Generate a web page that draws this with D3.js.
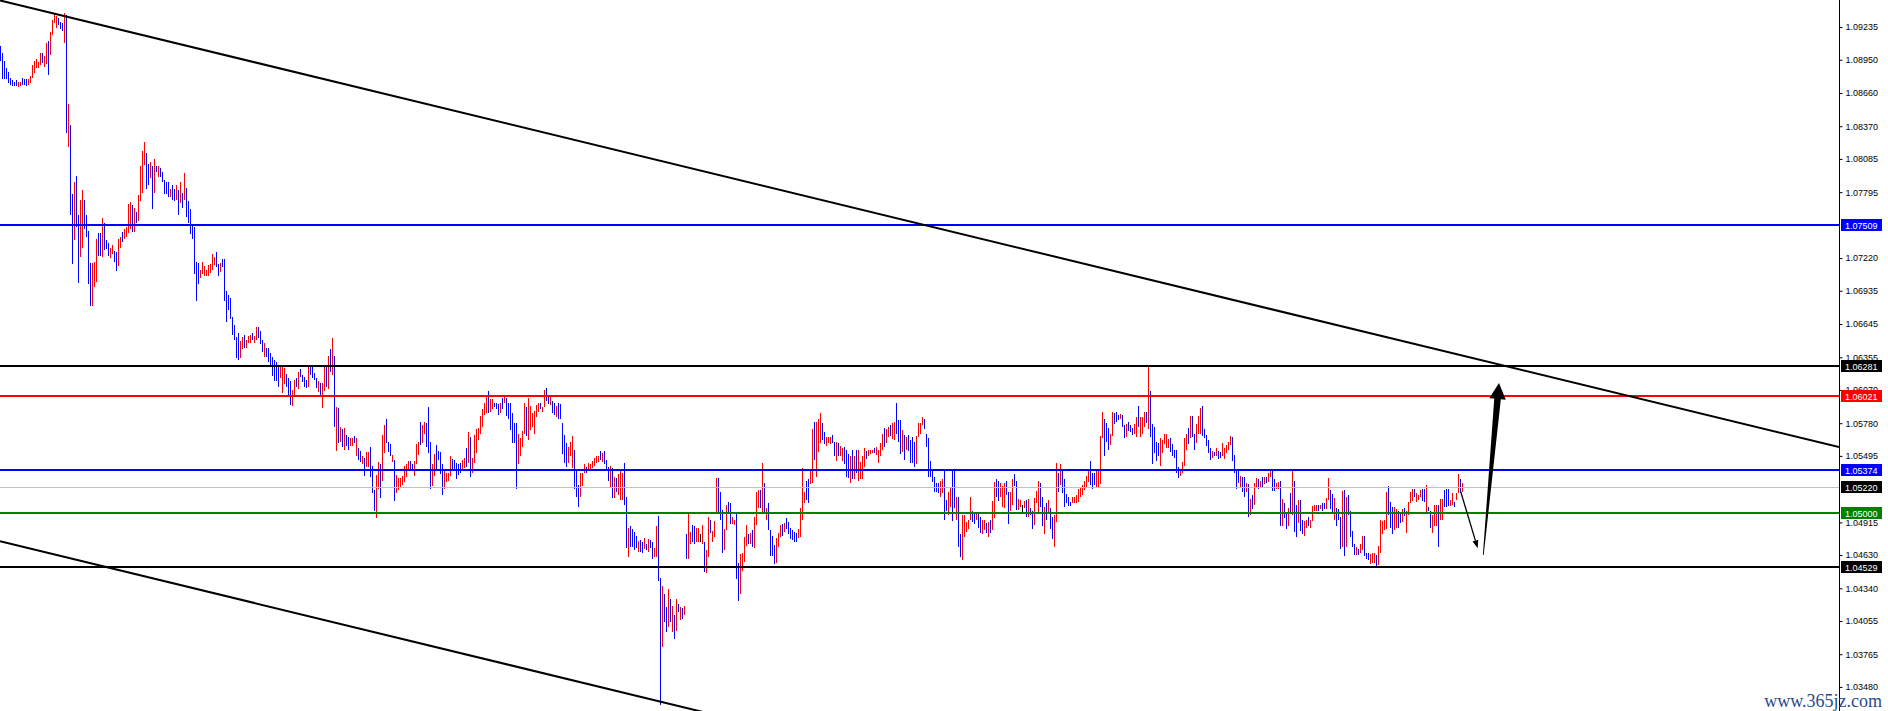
<!DOCTYPE html>
<html><head><meta charset="utf-8">
<script src="https://cdn.jsdelivr.net/npm/d3@7"></script>
<style>html,body{margin:0;padding:0;background:#fff;overflow:hidden}svg{display:block}</style>
</head><body>
<svg id="chart" width="1888" height="711"></svg>
<script>
// ---- DATA: bar highs, lows and direction (1 = close above open, -1 = close below open, 0 = unchanged) ----
const highs = [
1.0907,1.0901,1.0894,1.0888,1.0884,1.0879,1.0877,1.0876,1.0877,1.0876,
1.0876,1.0879,1.0878,1.0878,1.0878,1.0881,1.0890,1.0894,1.0896,1.0893,
1.0901,1.0901,1.0898,1.0910,1.0911,1.0919,1.0930,1.0936,1.0933,1.0931,
1.0928,1.0927,1.0936,1.0934,1.0856,1.0838,1.0778,1.0788,1.0794,1.0760,
1.0773,1.0781,1.0773,1.0760,1.0746,1.0718,1.0718,1.0719,1.0739,1.0744,
1.0744,1.0757,1.0753,1.0738,1.0735,1.0731,1.0733,1.0728,1.0727,1.0739,
1.0740,1.0745,1.0747,1.0749,1.0769,1.0771,1.0768,1.0766,1.0762,1.0777,
1.0802,1.0815,1.0823,1.0814,1.0804,1.0806,1.0802,1.0808,1.0802,1.0802,
1.0801,1.0797,1.0790,1.0788,1.0788,1.0782,1.0786,1.0782,1.0786,1.0781,
1.0788,1.0779,1.0796,1.0783,1.0772,1.0765,1.0752,1.0749,1.0719,1.0718,
1.0712,1.0719,1.0715,1.0712,1.0716,1.0717,1.0726,1.0723,1.0727,1.0717,
1.0718,1.0721,1.0721,1.0693,1.0690,1.0687,1.0671,1.0664,1.0653,1.0657,
1.0650,1.0653,1.0655,1.0651,1.0654,1.0655,1.0657,1.0654,1.0662,1.0662,
1.0658,1.0651,1.0648,1.0644,1.0644,1.0639,1.0636,1.0633,1.0631,1.0627,
1.0627,1.0627,1.0626,1.0621,1.0617,1.0615,1.0607,1.0616,1.0617,1.0623,
1.0625,1.0620,1.0618,1.0616,1.0628,1.0628,1.0628,1.0622,1.0617,1.0615,
1.0613,1.0613,1.0627,1.0628,1.0637,1.0643,1.0652,1.0637,1.0592,1.0591,
1.0575,1.0573,1.0574,1.0568,1.0566,1.0565,1.0565,1.0567,1.0565,1.0556,
1.0554,1.0549,1.0548,1.0553,1.0553,1.0557,1.0541,1.0520,1.0533,1.0544,
1.0542,1.0568,1.0576,1.0582,1.0562,1.0560,1.0550,1.0546,1.0533,1.0530,
1.0530,1.0532,1.0541,1.0542,1.0545,1.0545,1.0542,1.0545,1.0560,1.0562,
1.0579,1.0576,1.0579,1.0578,1.0592,1.0562,1.0542,1.0551,1.0559,1.0554,
1.0553,1.0542,1.0538,1.0535,1.0535,1.0549,1.0547,1.0546,1.0543,1.0542,
1.0543,1.0546,1.0548,1.0556,1.0570,1.0566,1.0548,1.0568,1.0573,1.0574,
1.0584,1.0590,1.0596,1.0601,1.0606,1.0599,1.0599,1.0596,1.0596,1.0595,
1.0596,1.0600,1.0601,1.0600,1.0596,1.0596,1.0587,1.0578,1.0578,1.0569,
1.0565,1.0571,1.0596,1.0592,1.0600,1.0593,1.0587,1.0589,1.0594,1.0596,
1.0596,1.0592,1.0607,1.0609,1.0602,1.0602,1.0597,1.0596,1.0593,1.0596,
1.0595,1.0578,1.0568,1.0561,1.0557,1.0562,1.0567,1.0555,1.0537,1.0524,
1.0535,1.0535,1.0542,1.0540,1.0543,1.0542,1.0545,1.0548,1.0549,1.0549,
1.0554,1.0552,1.0554,1.0546,1.0540,1.0541,1.0539,1.0531,1.0530,1.0534,
1.0536,1.0535,1.0543,1.0514,1.0487,1.0488,1.0486,1.0483,1.0480,1.0475,
1.0476,1.0474,1.0478,1.0473,1.0477,1.0476,1.0474,1.0469,1.0488,1.0497,
1.0443,1.0436,1.0429,1.0418,1.0433,1.0425,1.0419,1.0411,1.0425,1.0420,
1.0418,1.0417,1.0419,1.0481,1.0500,1.0483,1.0489,1.0488,1.0487,1.0487,
1.0481,1.0489,1.0474,1.0467,1.0496,1.0494,1.0484,1.0493,1.0530,1.0530,
1.0518,1.0502,1.0486,1.0507,1.0509,1.0508,1.0496,1.0494,1.0500,1.0456,
1.0464,1.0465,1.0479,1.0489,1.0481,1.0482,1.0485,1.0496,1.0518,1.0520,
1.0520,1.0543,1.0526,1.0504,1.0508,1.0485,1.0480,1.0472,1.0478,1.0482,
1.0489,1.0490,1.0491,1.0495,1.0492,1.0487,1.0485,1.0483,1.0482,1.0486,
1.0504,1.0539,1.0518,1.0528,1.0529,1.0537,1.0573,1.0579,1.0579,1.0582,
1.0587,1.0578,1.0570,1.0566,1.0566,1.0566,1.0568,1.0562,1.0562,1.0561,
1.0558,1.0556,1.0557,1.0555,1.0551,1.0549,1.0555,1.0549,1.0555,1.0555,
1.0544,1.0549,1.0556,1.0554,1.0555,1.0555,1.0555,1.0556,1.0557,1.0555,
1.0561,1.0569,1.0574,1.0573,1.0575,1.0576,1.0578,1.0579,1.0596,1.0581,
1.0581,1.0572,1.0568,1.0566,1.0568,1.0563,1.0566,1.0562,1.0567,1.0578,
1.0578,1.0583,1.0582,1.0569,1.0565,1.0545,1.0537,1.0531,1.0526,1.0526,
1.0528,1.0529,1.0537,1.0511,1.0518,1.0522,1.0537,1.0537,1.0514,1.0514,
1.0481,1.0498,1.0498,1.0492,1.0494,1.0514,1.0501,1.0500,1.0500,1.0500,
1.0496,1.0494,1.0494,1.0491,1.0492,1.0494,1.0510,1.0527,1.0529,1.0528,
1.0526,1.0523,1.0526,1.0528,1.0518,1.0518,1.0529,1.0534,1.0528,1.0512,
1.0511,1.0507,1.0510,1.0511,1.0512,1.0504,1.0501,1.0513,1.0519,1.0528,
1.0526,1.0514,1.0505,1.0508,1.0511,1.0504,1.0496,1.0498,1.0543,1.0535,
1.0542,1.0537,1.0529,1.0516,1.0514,1.0509,1.0514,1.0514,1.0515,1.0521,
1.0522,1.0524,1.0528,1.0532,1.0537,1.0545,1.0535,1.0535,1.0537,1.0536,
1.0567,1.0588,1.0582,1.0578,1.0574,1.0569,1.0588,1.0587,1.0588,1.0585,
1.0586,1.0585,1.0576,1.0577,1.0579,1.0576,1.0574,1.0577,1.0583,1.0593,
1.0583,1.0583,1.0588,1.0588,1.0627,1.0606,1.0577,1.0575,1.0562,1.0561,
1.0565,1.0563,1.0569,1.0569,1.0564,1.0565,1.0560,1.0555,1.0555,1.0540,
1.0536,1.0544,1.0565,1.0569,1.0574,1.0584,1.0584,1.0569,1.0577,1.0584,
1.0591,1.0593,1.0573,1.0568,1.0563,1.0556,1.0554,1.0553,1.0556,1.0554,
1.0553,1.0561,1.0556,1.0559,1.0562,1.0567,1.0566,1.0550,1.0537,1.0537,
1.0532,1.0531,1.0531,1.0526,1.0525,1.0512,1.0515,1.0526,1.0530,1.0529,
1.0528,1.0531,1.0531,1.0531,1.0535,1.0537,1.0537,1.0529,1.0526,1.0527,
1.0528,1.0512,1.0508,1.0500,1.0504,1.0517,1.0536,1.0528,1.0507,1.0511,
1.0511,1.0494,1.0493,1.0494,1.0496,1.0494,1.0506,1.0507,1.0507,1.0507,
1.0507,1.0508,1.0508,1.0513,1.0530,1.0520,1.0516,1.0513,1.0504,1.0503,
1.0496,1.0519,1.0520,1.0514,1.0515,1.0501,1.0484,1.0473,1.0470,1.0468,
1.0473,1.0480,1.0480,1.0465,1.0465,1.0464,1.0465,1.0465,1.0463,1.0471,
1.0494,1.0493,1.0494,1.0518,1.0523,1.0509,1.0505,1.0505,1.0503,1.0501,
1.0499,1.0503,1.0504,1.0501,1.0509,1.0518,1.0521,1.0521,1.0517,1.0515,
1.0520,1.0521,1.0521,1.0524,1.0505,1.0501,1.0498,1.0507,1.0507,1.0507,
1.0512,1.0512,1.0520,1.0521,1.0521,1.0511,1.0517,1.0509,1.0517,1.0534,
1.0529,1.0526];
const lows = [
1.0894,1.0878,1.0878,1.0878,1.0875,1.0873,1.0872,1.0872,1.0872,1.0871,
1.0872,1.0873,1.0873,1.0872,1.0873,1.0875,1.0879,1.0883,1.0888,1.0888,
1.0890,1.0892,1.0889,1.0891,1.0882,1.0899,1.0917,1.0927,1.0923,1.0925,
1.0922,1.0920,1.0910,1.0831,1.0819,1.0760,1.0717,1.0738,1.0749,1.0700,
1.0723,1.0731,1.0747,1.0740,1.0699,1.0680,1.0680,1.0697,1.0701,1.0724,
1.0724,1.0723,1.0729,1.0730,1.0724,1.0722,1.0726,1.0719,1.0711,1.0715,
1.0731,1.0736,1.0739,1.0740,1.0744,1.0747,1.0745,1.0745,1.0753,1.0754,
1.0772,1.0779,1.0803,1.0782,1.0786,1.0792,1.0765,1.0779,1.0797,1.0793,
1.0793,1.0788,1.0778,1.0778,1.0775,1.0775,1.0773,1.0772,1.0773,1.0760,
1.0770,1.0766,1.0773,1.0758,1.0753,1.0743,1.0739,1.0708,1.0685,1.0699,
1.0705,1.0708,1.0706,1.0706,1.0706,1.0709,1.0712,1.0716,1.0714,1.0706,
1.0710,1.0714,1.0685,1.0666,1.0677,1.0669,1.0655,1.0651,1.0635,1.0633,
1.0635,1.0643,1.0644,1.0644,1.0648,1.0648,1.0651,1.0648,1.0651,1.0652,
1.0647,1.0640,1.0636,1.0636,1.0631,1.0628,1.0619,1.0615,1.0615,1.0610,
1.0617,1.0604,1.0612,1.0610,1.0601,1.0594,1.0593,1.0601,1.0610,1.0608,
1.0618,1.0614,1.0610,1.0609,1.0610,1.0620,1.0617,1.0616,1.0609,1.0605,
1.0602,1.0591,1.0606,1.0610,1.0608,1.0623,1.0620,1.0575,1.0554,1.0561,
1.0562,1.0557,1.0555,1.0558,1.0555,1.0558,1.0558,1.0561,1.0549,1.0546,
1.0544,1.0542,1.0532,1.0540,1.0540,1.0531,1.0517,1.0501,1.0495,1.0521,
1.0513,1.0528,1.0552,1.0561,1.0553,1.0549,1.0544,1.0510,1.0517,1.0520,
1.0522,1.0524,1.0527,1.0531,1.0537,1.0538,1.0538,1.0532,1.0542,1.0550,
1.0559,1.0561,1.0569,1.0557,1.0552,1.0521,1.0523,1.0532,1.0538,1.0546,
1.0534,1.0515,1.0521,1.0527,1.0528,1.0532,1.0536,1.0538,1.0529,1.0533,
1.0535,1.0537,1.0539,1.0540,1.0543,1.0531,1.0535,1.0543,1.0552,1.0563,
1.0569,1.0575,1.0585,1.0587,1.0587,1.0588,1.0590,1.0592,1.0590,1.0585,
1.0587,1.0590,1.0596,1.0584,1.0582,1.0572,1.0561,1.0561,1.0521,1.0542,
1.0549,1.0557,1.0569,1.0567,1.0563,1.0572,1.0575,1.0569,1.0583,1.0588,
1.0590,1.0588,1.0592,1.0597,1.0595,1.0594,1.0587,1.0585,1.0583,1.0582,
1.0582,1.0551,1.0543,1.0540,1.0543,1.0549,1.0539,1.0521,1.0514,1.0505,
1.0514,1.0523,1.0535,1.0535,1.0538,1.0538,1.0539,1.0541,1.0543,1.0544,
1.0546,1.0544,1.0542,1.0537,1.0528,1.0522,1.0513,1.0513,1.0518,1.0515,
1.0511,1.0511,1.0507,1.0469,1.0461,1.0470,1.0470,1.0467,1.0469,1.0466,
1.0466,1.0465,1.0468,1.0467,1.0466,1.0469,1.0460,1.0461,1.0461,1.0440,
1.0332,1.0383,1.0405,1.0396,1.0400,1.0405,1.0396,1.0390,1.0397,1.0413,
1.0406,1.0407,1.0411,1.0460,1.0460,1.0473,1.0474,1.0473,1.0474,1.0474,
1.0474,1.0473,1.0448,1.0447,1.0461,1.0482,1.0474,1.0479,1.0500,1.0499,
1.0494,1.0465,1.0467,1.0485,1.0500,1.0490,1.0490,1.0489,1.0442,1.0423,
1.0429,1.0449,1.0457,1.0471,1.0473,1.0473,1.0470,1.0469,1.0489,1.0504,
1.0504,1.0500,1.0499,1.0494,1.0485,1.0462,1.0462,1.0455,1.0456,1.0470,
1.0479,1.0480,1.0483,1.0486,1.0481,1.0477,1.0476,1.0474,1.0474,1.0478,
1.0479,1.0494,1.0508,1.0511,1.0508,1.0525,1.0526,1.0546,1.0531,1.0553,
1.0561,1.0563,1.0560,1.0558,1.0561,1.0560,1.0561,1.0549,1.0545,1.0549,
1.0549,1.0545,1.0542,1.0531,1.0530,1.0526,1.0529,1.0529,1.0535,1.0528,
1.0529,1.0529,1.0540,1.0547,1.0549,1.0551,1.0552,1.0552,1.0550,1.0543,
1.0549,1.0555,1.0557,1.0561,1.0566,1.0567,1.0564,1.0563,1.0569,1.0562,
1.0551,1.0553,1.0546,1.0555,1.0554,1.0543,1.0543,1.0540,1.0542,1.0566,
1.0569,1.0576,1.0573,1.0557,1.0531,1.0531,1.0527,1.0518,1.0518,1.0517,
1.0514,1.0517,1.0494,1.0501,1.0498,1.0505,1.0493,1.0504,1.0494,1.0470,
1.0461,1.0459,1.0479,1.0483,1.0486,1.0494,1.0492,1.0490,1.0494,1.0487,
1.0482,1.0481,1.0485,1.0482,1.0479,1.0482,1.0485,1.0495,1.0514,1.0510,
1.0514,1.0505,1.0504,1.0515,1.0490,1.0501,1.0507,1.0523,1.0502,1.0502,
1.0505,1.0500,1.0504,1.0496,1.0496,1.0498,1.0486,1.0489,1.0508,1.0500,
1.0505,1.0488,1.0481,1.0494,1.0500,1.0486,1.0477,1.0470,1.0492,1.0518,
1.0524,1.0517,1.0505,1.0508,1.0506,1.0506,1.0508,1.0508,1.0508,1.0509,
1.0514,1.0515,1.0520,1.0522,1.0527,1.0524,1.0521,1.0524,1.0522,1.0522,
1.0525,1.0565,1.0549,1.0562,1.0555,1.0559,1.0567,1.0577,1.0579,1.0581,
1.0582,1.0575,1.0565,1.0566,1.0571,1.0570,1.0568,1.0569,1.0566,1.0575,
1.0566,1.0569,1.0575,1.0578,1.0573,1.0566,1.0542,1.0552,1.0545,1.0549,
1.0541,1.0552,1.0560,1.0556,1.0556,1.0553,1.0549,1.0548,1.0535,1.0530,
1.0532,1.0535,1.0541,1.0555,1.0560,1.0565,1.0566,1.0555,1.0561,1.0569,
1.0569,1.0567,1.0565,1.0558,1.0552,1.0546,1.0548,1.0549,1.0549,1.0547,
1.0548,1.0549,1.0547,1.0552,1.0555,1.0559,1.0545,1.0535,1.0521,1.0526,
1.0522,1.0518,1.0514,1.0518,1.0496,1.0498,1.0503,1.0507,1.0522,1.0521,
1.0522,1.0522,1.0525,1.0526,1.0527,1.0531,1.0519,1.0519,1.0521,1.0521,
1.0488,1.0488,1.0495,1.0486,1.0488,1.0499,1.0498,1.0483,1.0479,1.0491,
1.0484,1.0481,1.0480,1.0487,1.0488,1.0487,1.0493,1.0501,1.0501,1.0501,
1.0503,1.0501,1.0503,1.0503,1.0511,1.0503,1.0500,1.0494,1.0488,1.0494,
1.0468,1.0470,1.0462,1.0470,1.0498,1.0479,1.0470,1.0463,1.0463,1.0463,
1.0465,1.0467,1.0462,1.0460,1.0459,1.0455,1.0456,1.0456,1.0453,1.0454,
1.0465,1.0481,1.0485,1.0486,1.0498,1.0487,1.0481,1.0485,1.0487,1.0487,
1.0491,1.0492,1.0497,1.0482,1.0498,1.0508,1.0510,1.0514,1.0509,1.0511,
1.0514,1.0510,1.0509,1.0499,1.0501,1.0487,1.0482,1.0488,1.0488,1.0470,
1.0494,1.0494,1.0505,1.0505,1.0506,1.0506,1.0507,1.0505,1.0511,1.0517,
1.0517,1.0518];
const dirs = [
-1,-1,-1,-1,-1,-1,-1,-1,-1,1, 1,-1,-1,-1,1,1,1,1,1,1, 1,-1,1,1,-1,1,1,1,1,-1,
-1,-1,1,-1,1,-1,-1,1,-1,-1, 1,1,-1,-1,-1,-1,1,1,1,-1, -1,1,-1,-1,-1,1,1,-1,-1,1,
1,-1,1,1,1,1,-1,1,-1,1, 1,1,1,-1,-1,1,-1,1,-1,1, -1,-1,-1,-1,-1,1,-1,-1,1,-1,
1,-1,1,-1,-1,-1,-1,-1,-1,-1, 1,1,1,1,1,1,1,1,-1,-1, 1,-1,-1,-1,-1,-1,-1,-1,-1,-1,
1,1,-1,1,1,1,-1,1,1,-1, -1,-1,1,-1,-1,-1,-1,-1,-1,-1, 1,1,1,-1,-1,-1,1,1,-1,1,
-1,-1,-1,-1,1,-1,-1,-1,-1,1, -1,1,1,-1,1,-1,1,-1,1,-1, 1,-1,1,-1,-1,1,1,-1,1,-1,
-1,1,-1,1,1,-1,-1,-1,1,1, -1,1,1,-1,-1,-1,1,-1,1,1, 1,1,1,1,1,-1,-1,1,1,1,
-1,1,1,-1,-1,-1,1,1,-1,-1, -1,-1,1,1,1,1,-1,-1,-1,-1, -1,1,1,-1,1,-1,1,1,1,1,
1,1,1,1,-1,1,1,-1,-1,-1, 1,-1,1,-1,-1,-1,-1,-1,-1,1, 1,1,1,-1,1,1,1,1,1,1,
-1,1,1,-1,-1,1,-1,-1,1,-1, -1,-1,-1,-1,1,1,1,-1,-1,-1, 1,1,1,-1,1,1,1,1,1,1,
-1,1,-1,-1,-1,1,-1,1,-1,1, 1,1,-1,-1,1,-1,-1,-1,-1,1, -1,-1,1,-1,1,-1,-1,1,1,-1,
-1,1,-1,-1,1,-1,1,-1,1,-1, 1,-1,1,-1,1,1,-1,-1,1,1, 0,1,-1,1,1,-1,1,1,1,-1,
-1,-1,1,1,-1,-1,1,1,-1,-1, 1,1,1,1,-1,1,-1,1,1,1, -1,1,-1,1,-1,-1,-1,-1,1,1,
1,-1,1,-1,-1,-1,-1,-1,-1,1, 1,1,1,-1,-1,1,1,-1,1,1, 1,-1,-1,1,1,1,-1,-1,1,-1,
1,1,-1,-1,-1,1,-1,1,-1,1, 1,1,1,-1,1,1,1,-1,1,1, 1,1,-1,1,1,-1,1,1,-1,-1,
-1,1,-1,1,-1,-1,-1,-1,1,1, 1,1,-1,-1,-1,-1,-1,-1,-1,-1, 1,1,-1,-1,1,1,-1,-1,1,-1,
-1,1,1,1,1,1,-1,-1,1,-1, -1,1,1,-1,1,-1,1,1,-1,-1, 1,1,1,-1,-1,1,1,-1,-1,1,
1,0,1,-1,1,-1,-1,1,1,1, -1,-1,1,-1,1,-1,-1,1,1,-1, 1,-1,-1,-1,-1,-1,1,1,1,1,
1,1,1,1,1,-1,-1,-1,1,1, 1,1,-1,-1,-1,1,1,-1,-1,-1, 1,-1,-1,1,-1,-1,-1,1,1,-1,
1,1,1,-1,1,-1,-1,-1,-1,-1, 1,1,1,1,1,-1,-1,-1,-1,-1, 1,1,1,1,-1,1,-1,-1,1,1,
1,-1,-1,-1,-1,-1,1,-1,1,-1, -1,1,1,1,1,1,-1,-1,-1,-1, 1,-1,-1,1,-1,1,-1,1,1,-1,
1,-1,1,-1,1,1,-1,-1,1,1, -1,1,-1,-1,1,-1,1,-1,-1,1, -1,-1,1,1,-1,1,1,1,1,-1,
1,-1,-1,1,1,-1,-1,1,-1,-1, -1,1,-1,1,-1,-1,-1,-1,1,-1, 1,1,-1,-1,-1,1,1,1,-1,1,
1,1,1,1,-1,-1,-1,1,1,-1, -1,1,-1,1,1,1,1,-1,1,1, 1,-1,-1,1,-1,-1,1,1,1,-1,
1,1,-1,-1,-1,1,1,-1,1,1, -1,1];

// Price axis tick labels
const tickLabels = ["1.09235","1.08950","1.08660","1.08370","1.08085","1.07795","1.07220","1.06935",
  "1.06645","1.06355","1.06070","1.05780","1.05495","1.04915","1.04630","1.04340","1.04055","1.03765","1.03480"];

// Horizontal price levels (value, kind)
const levelPrices = [1.07509, 1.06281, 1.06021, 1.05374, 1.05220, 1.05000, 1.04529];
const levelKinds  = ["blue", "black", "red", "blue", "bid", "green", "black"];

// Trend channel lines: [bar index, price] end points
const trendUpper = [[-0.25, 1.09467], [919.25, 1.05572]];
const trendLower = [[-0.25, 1.04751], [919.25, 1.00854]];

// Forecast arrows: [bar index, price]
const arrowDown = [[730.1, 1.05183], [738.6, 1.04689]];
const arrowUp   = [[741.4, 1.04631], [749.25, 1.06131]];

const watermark = "www.365jz.com";

// ---- DRAWING ----
const W = 1888, H = 711, plotW = 1839;
const svg = d3.select("#chart");
const x = d3.scaleLinear().domain([-0.25, 919.25]).range([0, plotW]);
const y = d3.scaleLinear().domain([1.03270, 1.09471]).range([H, 0]);

const style = {
  up: "#ff0000", down: "#0000ff", flat: "#000000",
  level: { blue: "#0000ff", black: "#000000", red: "#ff0000", green: "#008000", bid: "#c0c0c0" }
};

svg.append("rect").attr("width", W).attr("height", H).attr("fill", "#fff");
svg.append("defs").append("clipPath").attr("id", "plot")
  .append("rect").attr("x", 0).attr("y", 0).attr("width", plotW).attr("height", H);

const plot = svg.append("g").attr("clip-path", "url(#plot)");

// bars
const bars = d3.range(highs.length).map(i => ({ i, h: highs[i], l: lows[i], d: dirs[i] }));
plot.append("g").selectAll("line").data(bars).join("line")
  .attr("x1", d => Math.round(x(d.i) - 0.5) + 0.5)
  .attr("x2", d => Math.round(x(d.i) - 0.5) + 0.5)
  .attr("y1", d => y(d.h))
  .attr("y2", d => Math.max(y(d.l), y(d.h) + 1))
  .attr("stroke", d => d.d > 0 ? style.up : (d.d < 0 ? style.down : style.flat))
  .attr("stroke-width", 1)
  .attr("shape-rendering", "crispEdges");

// horizontal levels
const levels = levelPrices.map((p, k) => ({ p, kind: levelKinds[k] }));
plot.append("g").selectAll("line").data(levels).join("line")
  .attr("x1", 0).attr("x2", plotW)
  .attr("y1", d => Math.round(y(d.p)) + (d.kind === "bid" ? 0.5 : 0))
  .attr("y2", d => Math.round(y(d.p)) + (d.kind === "bid" ? 0.5 : 0))
  .attr("stroke", d => style.level[d.kind])
  .attr("stroke-width", d => d.kind === "bid" ? 1 : 2)
  .attr("shape-rendering", "crispEdges");

// trend lines
[trendUpper, trendLower].forEach(t => {
  plot.append("line")
    .attr("x1", x(t[0][0])).attr("y1", y(t[0][1]))
    .attr("x2", x(t[1][0])).attr("y2", y(t[1][1]))
    .attr("stroke", "#000").attr("stroke-width", 2);
});

// thin arrow
(function () {
  const x0 = x(arrowDown[0][0]), y0 = y(arrowDown[0][1]);
  const x1 = x(arrowDown[1][0]), y1 = y(arrowDown[1][1]);
  const dx = x1 - x0, dy = y1 - y0, len = Math.hypot(dx, dy);
  const ux = dx / len, uy = dy / len, nx = -uy, ny = ux;
  const hl = 8, hw = 3;
  const bx = x1 - ux * hl, by = y1 - uy * hl;
  plot.append("line").attr("x1", x0).attr("y1", y0).attr("x2", bx).attr("y2", by)
    .attr("stroke", "#000").attr("stroke-width", 1.3);
  plot.append("path")
    .attr("d", d3.line()([[x1, y1], [bx + nx * hw, by + ny * hw], [bx - nx * hw, by - ny * hw]]) + "Z")
    .attr("fill", "#000");
})();

// thick arrow
(function () {
  const x0 = x(arrowUp[0][0]), y0 = y(arrowUp[0][1]);
  const x1 = x(arrowUp[1][0]), y1 = y(arrowUp[1][1]);
  const dx = x1 - x0, dy = y1 - y0, len = Math.hypot(dx, dy);
  const ux = dx / len, uy = dy / len, nx = -uy, ny = ux;
  const headLen = 16, headHalf = 8.3, neckHalf = 3.3, tailHalf = 0.4;
  const bx = x1 - ux * headLen, by = y1 - uy * headLen;
  const pts = [
    [x0 + nx * tailHalf, y0 + ny * tailHalf],
    [bx + nx * neckHalf, by + ny * neckHalf],
    [bx + nx * headHalf, by + ny * headHalf],
    [x1, y1],
    [bx - nx * headHalf, by - ny * headHalf],
    [bx - nx * neckHalf, by - ny * neckHalf],
    [x0 - nx * tailHalf, y0 - ny * tailHalf]
  ];
  plot.append("path").attr("d", d3.line()(pts) + "Z").attr("fill", "#000");
})();

// price axis
const axis = d3.axisRight(y)
  .tickValues(tickLabels.map(Number))
  .tickFormat((d, i) => tickLabels[i])
  .tickSize(3).tickSizeOuter(0).tickPadding(3);
const gAxis = svg.append("g").attr("transform", `translate(${plotW + 0.5},0)`).call(axis);
gAxis.select(".domain").attr("stroke", "#000").attr("d", `M0,0V${H}`);
gAxis.selectAll(".tick line").attr("stroke", "#000");
gAxis.selectAll(".tick text")
  .attr("fill", "#000")
  .style("font-family", "'Liberation Sans', Arial, sans-serif")
  .style("font-size", "9px");

// level labels on the axis
const lab = svg.append("g");
levels.forEach(d => {
  const yy = Math.round(y(d.p));
  const bg = d.kind === "bid" ? "#000000" : style.level[d.kind];
  lab.append("rect").attr("x", plotW + 2).attr("y", yy - 6).attr("width", 41).attr("height", 12)
    .attr("fill", bg);
  lab.append("text").attr("x", plotW + 6).attr("y", yy + 0.5).attr("dy", "0.35em")
    .attr("fill", "#fff")
    .style("font-family", "'Liberation Sans', Arial, sans-serif").style("font-size", "9px")
    .text(d3.format(".5f")(d.p));
});

// watermark
svg.append("text").attr("x", 1882).attr("y", 707).attr("text-anchor", "end")
  .attr("fill", "#2b4a8b")
  .style("font-family", "'Liberation Serif', serif").style("font-size", "18px")
  .text(watermark);
</script>
</body></html>
